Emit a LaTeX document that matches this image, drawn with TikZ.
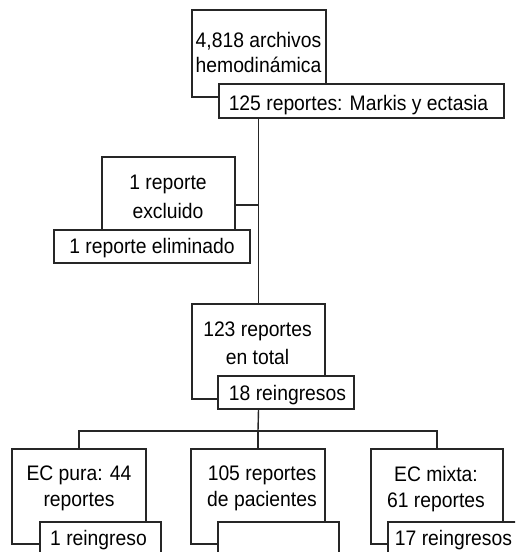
\documentclass[tikz,border=0pt]{standalone}
\usepackage{fontspec}
\setmainfont{Liberation Sans}[FakeStretch=0.92]
\usetikzlibrary{positioning}

\begin{document}
\begin{tikzpicture}[
      x=1pt,y=-1pt,
      box/.style={draw=black!85,fill=white,inner sep=0pt,line width=1.4pt},
      link/.style={draw=black!85,line width=1.4pt},
      txt/.style={inner sep=0pt,align=center,text=black,
        font=\fontsize{21}{27}\selectfont}
    ]
    \useasboundingbox (0,0) rectangle (515,552);
    \clip (0,0) rectangle (515,552);

    % main boxes
    \node[box,minimum width=134pt,minimum height=87pt] (A) at (259,53.5) {};
    \node[box,minimum width=285pt,minimum height=34pt] (Asub) at (361.5,101) {};
    \node[box,minimum width=133pt,minimum height=73pt] (B) at (168.5,193.5) {};
    \node[box,minimum width=196pt,minimum height=33pt] (Bsub) at (152,246.5) {};
    \node[box,minimum width=133pt,minimum height=95pt] (C) at (258.5,351.5) {};
    \node[box,minimum width=136pt,minimum height=33pt] (Csub) at (286,392.5) {};
    \node[box,minimum width=134pt,minimum height=95pt] (D) at (79,496.5) {};
    \node[box,minimum width=121pt,minimum height=40pt] (Dsub) at (100.5,542) {};
    \node[box,minimum width=134pt,minimum height=95pt] (E) at (258,496.5) {};
    \node[box,minimum width=121pt,minimum height=40pt] (Esub) at (278.5,542) {};
    \node[box,minimum width=132pt,minimum height=95pt] (F) at (437,496.5) {};
    \node[box,minimum width=137pt,minimum height=40pt] (Fsub) at (456.5,542) {};

    % texts
    \node[txt,anchor=north] (tA) at (258.5,31.7) {4,818 archivos\\[-2pt]hemodinámica};
    \node[txt,anchor=base] (tAsub) at (358.5,110) {125 reportes: Markis y ectasia};
    \node[txt,anchor=north] (tB) at (168,174.5) {1 reporte\\[2pt]excluido};
    \node[txt,anchor=base] (tBsub) at (152,253) {1 reporte eliminado};
    \node[txt,anchor=north] (tC) at (257.5,321.5) {123 reportes\\[1pt]en total};
    \node[txt,anchor=base] (tCsub) at (287.5,400) {18 reingresos};
    \node[txt,anchor=north] (tD) at (79,466) {EC pura: 44\\[-1pt]reportes};
    \node[txt,anchor=north] (tE) at (262,466) {105 reportes\\[-1pt]de pacientes};
    \node[txt,anchor=north] (tF) at (436,466) {EC mixta:\\[-1pt]61 reportes};
    \node[txt,anchor=base] (tDsub) at (98.5,545) {1 reingreso};
    \node[txt,anchor=base] (tFsub) at (453.5,545) {17 reingresos};

    % connectors
    \coordinate (split) at (258,431);
    \draw[link] (C.north |- Asub.south) -- (C.north);
    \draw[link] ([yshift=-11.5pt]B.east) -- ([yshift=-11.5pt]B.east -| C.north);
    \draw[link] (C.north |- Csub.south) -- (split);
    \draw[link] (D.north) -- (D.north |- split) -- (F.north |- split) -- (F.north);
    \draw[link] (split) -- (E.north);
  \end{tikzpicture}
\end{document}
